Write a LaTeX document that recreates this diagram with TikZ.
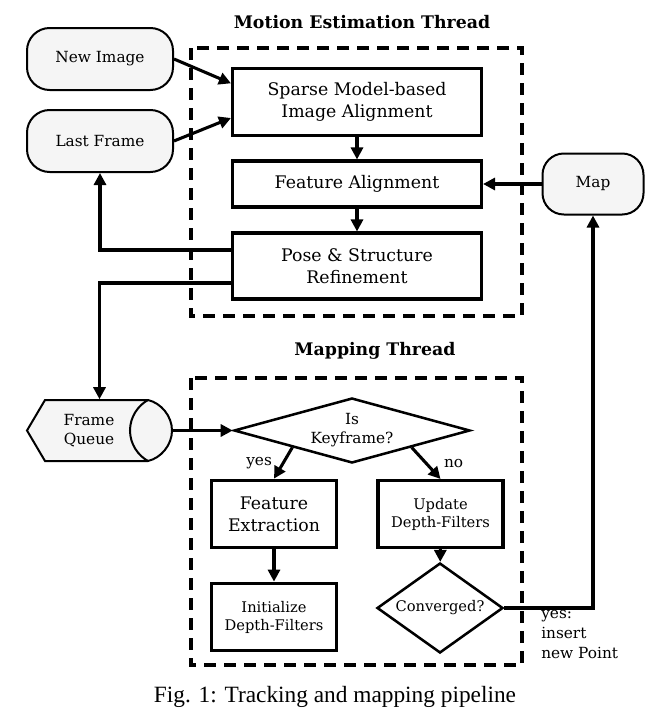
\documentclass[tikz,border=0pt]{standalone}
\usepackage{fontspec}
\setmainfont{DejaVu Serif}
\newfontfamily\capfont{Liberation Serif}
\usetikzlibrary{arrows.meta,shapes.geometric}
\definecolor{termfill}{HTML}{F5F5F5}
\begin{document}
\begin{tikzpicture}[>={Triangle[length=9pt,width=9pt]},x=0.75pt,y=-0.75pt,
	bigtxt/.style={font=\fontsize{13}{16.5}\selectfont},
	midtxt/.style={font=\fontsize{11.5}{14.25}\selectfont},
	smalltxt/.style={font=\fontsize{11}{13.5}\selectfont},
	ttl/.style={font=\fontsize{13}{16}\selectfont\bfseries},
	procbox/.style={draw,line width=2.3pt,rectangle,inner sep=0pt,align=center},
	termbox/.style={draw,line width=1.5pt,fill=termfill,inner sep=0pt,align=center,midtxt},
	decision/.style={draw,line width=1.9pt,diamond,inner sep=0pt,align=center},
	flow/.style={->,line width=2.3pt},
	thread/.style={line width=2.3pt,dash pattern=on 9pt off 6pt}]
	\useasboundingbox (0,0) rectangle (666,721);
	
	\node[ttl] (mettitle) at (362,22) {Motion Estimation Thread};
	\draw[thread] (191,48) rectangle (522,316);
	\node[termbox,rounded corners=17pt,minimum width=109.5pt,minimum height=46.5pt] (newimg) at (100,59) {New Image};
	\node[termbox,rounded corners=17pt,minimum width=109.5pt,minimum height=46.5pt] (lastfr) at (100,141) {Last Frame};
	\node[procbox,bigtxt,minimum width=186.75pt,minimum height=50.25pt] (sparse) at (357,102) {Sparse Model-based\\Image Alignment};
	\node[procbox,bigtxt,minimum width=186.75pt,minimum height=34.5pt] (featal) at (357,184) {Feature Alignment};
	\node[procbox,bigtxt,minimum width=186.75pt,minimum height=49.5pt] (pose) at (357,266) {Pose \& Structure\\Refinement};
	\node[termbox,rounded corners=16pt,minimum width=75.75pt,minimum height=45.75pt] (map) at (593,184) {Map};
	
	\draw[flow] (newimg.east) -- ([yshift=14pt]sparse.west);
	\draw[flow] (lastfr.east) -- ([yshift=-12pt]sparse.west);
	\draw[flow] (sparse) -- (featal);
	\draw[flow] (featal) -- (pose);
	\draw[flow] (map) -- (featal);
	\draw[flow] ([yshift=12pt]pose.west) -| (lastfr.south);
	
	\node[ttl] (maptitle) at (375,351) {Mapping Thread};
	\draw[thread] (191,378) rectangle (522,665);
	\node[inner sep=0pt,minimum width=108.75pt,minimum height=46.5pt] (queue) at (99.5,430.5) {};
	\filldraw[line width=1.5pt,fill=termfill] (27,430.5) -- (45,400) -- (148,400)
		.. controls (161,403) and (172,416) .. (172,430.5)
		.. controls (172,445) and (161,458) .. (148,461) -- (45,461) -- cycle;
	\draw[line width=1.5pt] (148,400) .. controls (138,405.5) and (130,417) .. (130,430.5)
		.. controls (130,444) and (138,455.5) .. (148,461);
	\node[midtxt,align=center] (queuetxt) at (89,430.5) {Frame\\Queue};
	\node[decision,midtxt,aspect=3.6,minimum width=177pt,minimum height=48.75pt] (keyfr) at (352,430.5) {Is\\Keyframe?};
	\node[procbox,line width=2.8pt,bigtxt,minimum width=93.75pt,minimum height=50.25pt] (featex) at (274,514) {Feature\\Extraction};
	\node[procbox,line width=2.8pt,smalltxt,minimum width=93.75pt,minimum height=50.25pt] (initdf) at (274,617) {Initialize\\Depth-Filters};
	\node[procbox,smalltxt,minimum width=93.75pt,minimum height=50.25pt] (upddf) at (440.5,514) {Update\\Depth-Filters};
	\node[decision,smalltxt,aspect=1.4,minimum width=94.5pt,minimum height=67.5pt] (conv) at (440,608) {Converged?};
	\node[midtxt,align=left,anchor=north west,inner sep=0pt,font=\fontsize{11.5}{15}\selectfont] (yeslbl) at (541,610) {yes:\\insert\\new Point};
	
	\draw[flow] ([yshift=-12.75pt]pose.west) -| (queue.north);
	\draw[flow] (queue.east) -- (keyfr.west);
	\draw[flow] (keyfr.south west) -- node[midtxt,left=4pt] (yestxt) {yes} (featex.north);
	\draw[flow] (keyfr.south east) -- node[midtxt,right=9pt] (notxt) {no} (upddf.north);
	\draw[flow] (featex) -- (initdf);
	\draw[flow] (upddf) -- (conv);
	\draw[flow] (conv.east) -| (map.south);
	
	\node[font=\capfont\fontsize{17.5}{20}\selectfont] (caption) at (335,697) {Fig. 1: Tracking and mapping pipeline};
\end{tikzpicture}
\end{document}
